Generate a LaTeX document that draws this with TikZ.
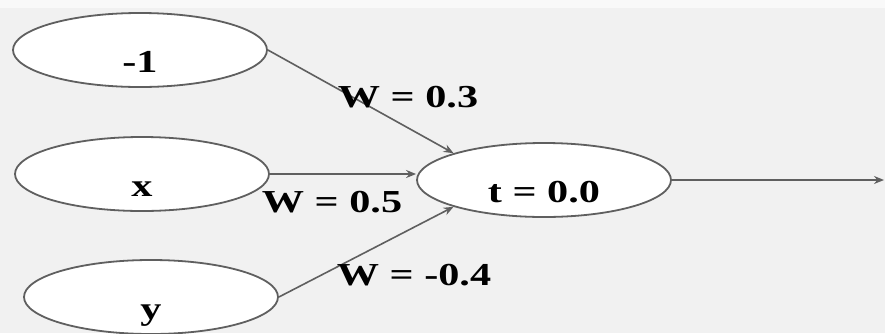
\documentclass[tikz,border=0pt]{standalone}
\usepackage{fontspec}
\setmainfont{Liberation Serif}
\usepackage{graphicx}
\usetikzlibrary{shapes.geometric, arrows.meta}

\definecolor{bgcol}{RGB}{241,241,241}
\definecolor{edgecol}{RGB}{95,95,95}
\newcommand{\widetext}[1]{\scalebox{1.32}[1]{#1}}

\begin{document}
\begin{tikzpicture}[x=0.5pt, y=-0.5pt, >={Stealth[length=5pt, width=4pt]},
    unit/.style={ellipse, draw=edgecol, fill=white, line width=0.9pt,
      inner sep=0pt, minimum width=127pt, minimum height=37pt,
      text height=22pt, text depth=0pt,
      font=\bfseries\fontsize{16}{19}\selectfont},
    weight/.style={anchor=base, inner sep=0pt,
      font=\bfseries\fontsize{16}{19}\selectfont},
    link/.style={->, draw=edgecol, line width=0.8pt}]
  % background
  \fill[bgcol] (0,0) rectangle (885,333);
  \fill[white!60!bgcol] (0,0) rectangle (885,8);
  \clip (0,0) rectangle (885,333);
  \useasboundingbox (0,0) rectangle (885,333);

  % inputs
  \node[unit] (bias) at (140,50) {\widetext{-1}};
  \node[unit] (inx) at (142,174) {\widetext{x}};
  \node[unit] (iny) at (151,297) {\widetext{y}};

  % threshold unit
  \node[unit] (thr) at (544,180) {\widetext{t = 0.0}};
  \coordinate (out) at (884,180);

  % links
  \draw[link] (bias.east) -- (thr.north west);
  \draw[link] (inx.east) -- (thr.west |- inx.east);
  \draw[link] (iny.east) -- (thr.south west);
  \draw[link] (thr.east) -- (out);

  % weights
  \node[weight] (w1) at (408,107) {\widetext{W = 0.3}};
  \node[weight] (w2) at (332,212) {\widetext{W = 0.5}};
  \node[weight] (w3) at (414,285) {\widetext{W = -0.4}};
\end{tikzpicture}
\end{document}
